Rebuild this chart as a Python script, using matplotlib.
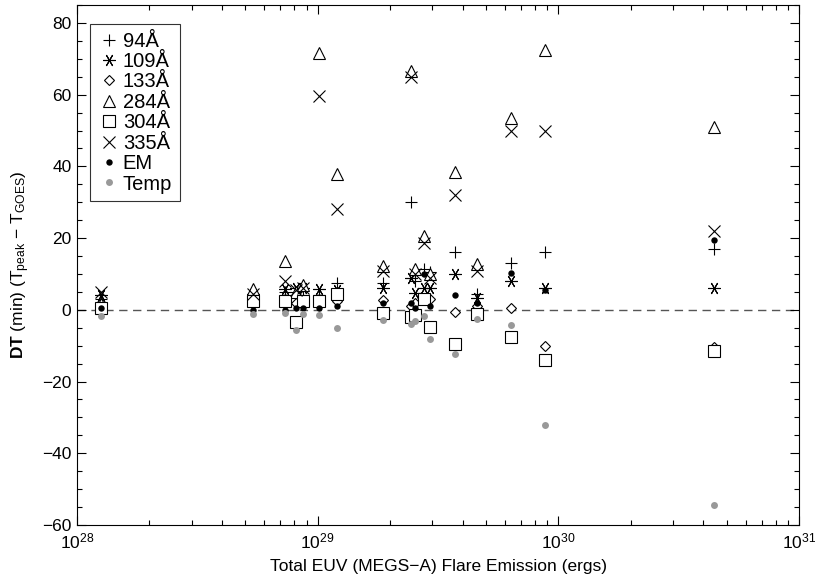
import matplotlib
matplotlib.use("Agg")
import matplotlib.pyplot as plt
from matplotlib.ticker import MultipleLocator, LogLocator, NullFormatter, FixedLocator
import numpy as np

plt.rcParams['font.family'] = ['Liberation Sans', 'DejaVu Sans']
plt.rcParams['mathtext.fontset'] = 'custom'
plt.rcParams['mathtext.rm'] = 'Liberation Sans'
plt.rcParams['mathtext.bf'] = 'Liberation Sans:bold'
plt.rcParams['mathtext.it'] = 'Liberation Sans:italic'

# Total EUV flare energy (ergs)
energy = [1.26e28, 5.38e28, 7.31e28, 8.13e28, 8.69e28, 1.01e29, 1.20e29, 1.87e29,
          2.44e29, 2.54e29, 2.77e29, 2.93e29, 3.72e29, 4.59e29, 6.36e29, 8.79e29, 4.43e30]

dt_94   = [3.0, 4.0, 5.0, 5.0, 4.0, 4.0, 7.5, 7.6, 30.0, 8.0, 11.3, 10.5, 16.0, 4.5, 13.0, 16.0, 17.0]
dt_109  = [4.0, 4.5, 5.8, 6.0, 6.0, 5.8, 5.5, 6.2, 9.0, 4.8, 6.2, 6.2, 10.0, 3.4, 8.0, 6.0, 6.0]
dt_133  = [2.0, 3.0, 3.0, 2.0, 2.5, 3.0, 2.5, 2.7, 1.0, 2.0, 3.0, 3.0, -0.7, 1.1, 0.6, -10.0, -10.5]
dt_284  = [1.5, 5.8, 13.6, 5.0, 7.0, 71.5, 38.0, 12.3, 66.5, 11.3, 20.6, 10.0, 38.5, 12.7, 53.5, 72.5, 51.0]
dt_304  = [0.5, 2.5, 2.5, -3.5, 2.5, 2.5, 4.5, -1.0, -2.0, -1.5, 3.0, -4.9, -9.5, -1.2, -7.5, -14.0, -11.5]
dt_335  = [5.0, 4.5, 8.0, 5.5, 6.0, 59.5, 28.0, 10.9, 65.0, 9.9, 18.5, 9.0, 32.0, 10.9, 50.0, 50.0, 22.0]
dt_em   = [0.5, 0.0, 0.0, 0.6, 0.6, 0.5, 1.0, 1.8, 2.0, 0.5, 10.0, 1.1, 4.0, 2.0, 10.3, 5.5, 19.5]
dt_temp = [-1.7, -1.2, -1.0, -5.5, -1.2, -1.4, -5.0, -2.9, -4.0, -3.0, -1.7, -8.0, -12.3, -2.6, -4.2, -32.0, -54.5]

labels = ['94Å', '109Å', '133Å', '284Å', '304Å', '335Å', 'EM', 'Temp']

fig = plt.figure(figsize=(8.15, 5.77), dpi=100)
L, R, T, B = 77, 799, 5, 525
ax = fig.add_axes([L / 815, 1 - B / 577, (R - L) / 815, (B - T) / 577])

ax.axhline(0, color='#555555', lw=1.0, ls=(0, (6, 4)), zorder=1)

lw = 0.8
ast = (6, 2, 90)
ax.plot(energy, dt_94, ls='none', marker='+', ms=9, mew=lw, color='black', label=labels[0])
ax.plot(energy, dt_109, ls='none', marker=ast, ms=9, mew=lw, color='black', label=labels[1])
ax.plot(energy, dt_133, ls='none', marker='D', ms=5.6, mew=lw, mfc='white', mec='black', label=labels[2])
ax.plot(energy, dt_284, ls='none', marker='^', ms=8.6, mew=lw, mfc='white', mec='black', label=labels[3])
ax.plot(energy, dt_304, ls='none', marker='s', ms=8, mew=lw, mfc='white', mec='black', label=labels[4])
ax.plot(energy, dt_335, ls='none', marker='x', ms=8, mew=lw, color='black', label=labels[5])
ax.plot(energy, dt_em, ls='none', marker='o', ms=4.6, mew=0, color='black', label=labels[6])
ax.plot(energy, dt_temp, ls='none', marker='o', ms=5, mew=0, color='#999999', label=labels[7])

ax.set_xscale('log')
ax.set_xlim(1e28, 1e31)
ax.set_ylim(-60, 85)
ax.set_xticks([1e28, 1e29, 1e30, 1e31])
ax.set_xticklabels([r'10$^{28}$', r'10$^{29}$', r'10$^{30}$', r'10$^{31}$'])
ax.xaxis.set_minor_locator(LogLocator(base=10, subs=np.arange(2, 10)))
ax.xaxis.set_minor_formatter(NullFormatter())
ax.yaxis.set_major_locator(FixedLocator([-60, -40, -20, 0, 20, 40, 60, 80]))
ax.yaxis.set_minor_locator(MultipleLocator(5))
ax.set_yticklabels(['−60', '−40', '−20', '0', '20', '40', '60', '80'])

ax.tick_params(which='both', direction='in', top=True, right=True, labelsize=12.5, width=0.8, colors='black')
ax.tick_params(which='major', length=6.5)
ax.tick_params(which='minor', length=3.5)
ax.tick_params(axis='x', which='major', pad=5)
ax.tick_params(axis='y', which='major', pad=4)
for s in ax.spines.values():
    s.set_linewidth(0.8)

ax.set_xlabel('Total EUV (MEGS−A) Flare Emission (ergs)', fontsize=12.5, va='center')
ax.xaxis.set_label_coords(0.5, (B - 566) / (B - T))
ax.set_ylabel(r'$\mathbf{DT}$ (min) (T$_{\rm peak}$ − T$_{\rm GOES}$)', fontsize=12.5, va='center')
ax.yaxis.set_label_coords((21 - L) / (R - L), 0.5)

leg = ax.legend(loc='upper left', bbox_to_anchor=((90 - L) / (R - L), 1 - (24 - T) / (B - T)),
                fontsize=14.5, frameon=True, fancybox=False, edgecolor='black',
                handlelength=1.15, handletextpad=0.1, labelspacing=0.07,
                borderpad=0.38, borderaxespad=0)
leg.get_frame().set_linewidth(0.8)

fig.savefig('out.png', dpi=100)
